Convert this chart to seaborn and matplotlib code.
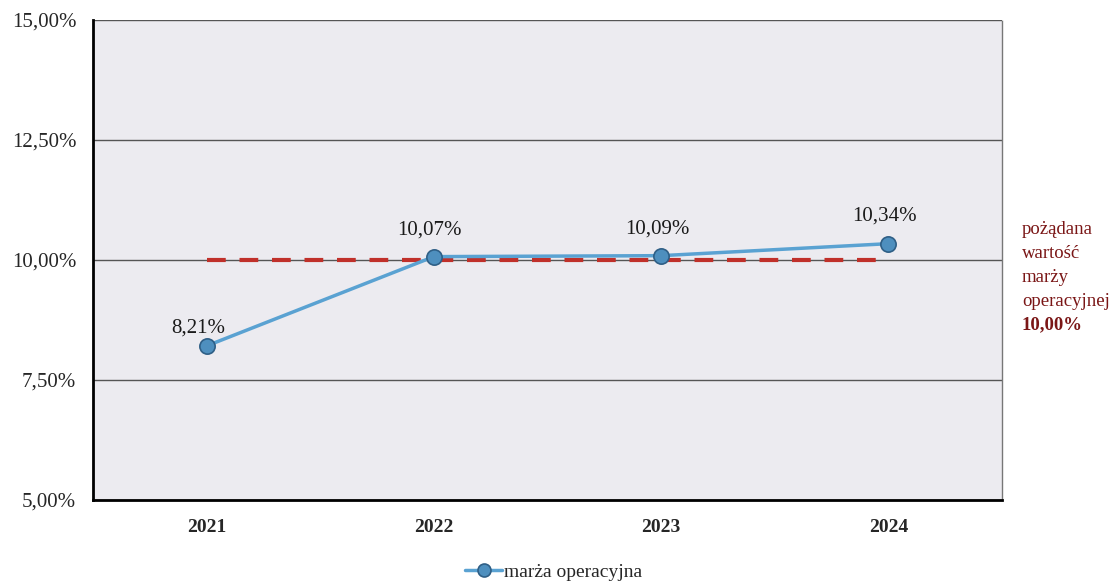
import matplotlib
matplotlib.use("Agg")
import matplotlib.pyplot as plt
import seaborn as sns
import pandas as pd
from matplotlib.ticker import FixedLocator, FuncFormatter

years = ["2021", "2022", "2023", "2024"]
margin = [8.21, 10.07, 10.09, 10.34]
margin_labels = ["8,21%", "10,07%", "10,09%", "10,34%"]
target = [10.0, 10.0, 10.0, 10.0]
y_ticks = [5.0, 7.5, 10.0, 12.5, 15.0]
side_note = ["pożądana", "wartość", "marży", "operacyjnej", "10,00%"]

sns.set_style("white")
plt.rcParams['font.family'] = ['Liberation Serif', 'DejaVu Serif']

df = pd.DataFrame({"rok": years, "marza": margin, "cel": target})

fig = plt.figure(figsize=(11.12, 5.83), dpi=100)
ax = fig.add_axes([0.0836, 0.1424, 0.8175, 0.8233])
ax.set_facecolor("#ECEBF0")

sns.lineplot(data=df, x="rok", y="cel", ax=ax, color="#C0302A", linewidth=3,
             dashes=False, linestyle=(0, (4.5, 3.3)), zorder=3, sort=False)
sns.lineplot(data=df, x="rok", y="marza", ax=ax, color="#5AA2D2", linewidth=2.5,
             marker="o", markersize=11, markerfacecolor="#4E8FBE",
             markeredgecolor="#2F5F86", markeredgewidth=1.2, zorder=4,
             label="marża operacyjna", sort=False)

label_offsets = [(-6, 6), (-3, 12), (-3, 12), (-3, 13)]
for i, (v, t) in enumerate(zip(margin, margin_labels)):
    ax.annotate(t, (i, v), xytext=label_offsets[i], textcoords="offset points",
                ha="center", va="bottom", fontsize=15, color="#1a1a1a")

ax.set_ylim(5, 15)
ax.set_xlim(-0.5, 3.5)
ax.yaxis.set_major_locator(FixedLocator(y_ticks))
ax.yaxis.set_major_formatter(FuncFormatter(lambda v, p: f"{v:.2f}%".replace(".", ",")))
ax.grid(axis="y", color="#555555", linewidth=1)
ax.set_axisbelow(True)

ax.set_xticks(range(len(years)))
ax.set_xticklabels(years)
ax.xaxis.set_minor_locator(FixedLocator([-0.5, 0.5, 1.5, 2.5, 3.5]))
ax.tick_params(axis="x", which="major", length=0, pad=14, labelsize=14)
ax.tick_params(axis="x", which="minor", length=6, width=1.5, color="black", direction="out")
ax.tick_params(axis="y", length=6, width=1.5, color="black", direction="out", labelsize=15, pad=6)
for lab in ax.get_xticklabels():
    lab.set_fontweight("bold")
ax.set_xlabel("")
ax.set_ylabel("")

for s in ["left", "bottom"]:
    ax.spines[s].set_color("black")
    ax.spines[s].set_linewidth(2)
ax.spines["top"].set_visible(False)
ax.spines["right"].set_color("#777777")
ax.spines["right"].set_linewidth(1)
ax.spines["right"].set_linestyle((0, (1, 1)))

leg = ax.legend(loc="center", bbox_to_anchor=(0.507, -0.15), frameon=False,
                fontsize=14, handlelength=1.9, handletextpad=0.1, markerscale=0.85)

y0 = 1 - 229 / 583
step = 24 / 583
for k, line in enumerate(side_note):
    fig.text(0.919, y0 - k * step, line, ha="left", va="center", color="#7A1616",
             fontsize=13.5, fontweight="bold" if k == len(side_note) - 1 else "normal")

fig.savefig("out.png", dpi=100)
